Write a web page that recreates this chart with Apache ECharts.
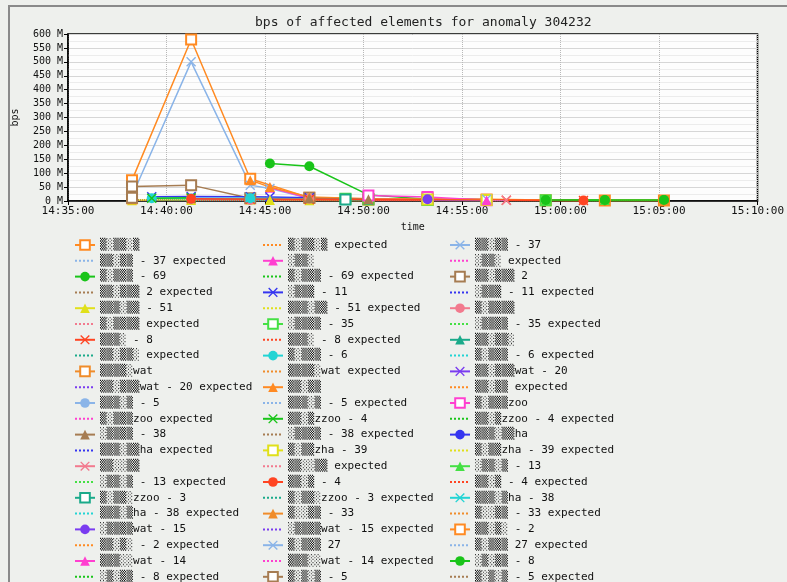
<!DOCTYPE html>
<html>
<head>
<meta charset="utf-8">
<script src="https://cdn.jsdelivr.net/npm/echarts@6/dist/echarts.min.js"></script>
<style>
html, body { margin: 0; padding: 0; background: #eef0ed; }
#main { width: 787px; height: 582px; }
</style>
</head>
<body>
<div id="main"></div>
<script>
// sample times (x) shared by all series
var times = ['14:38:15', '14:39:15', '14:41:15', '14:44:15', '14:45:15', '14:47:15', '14:49:05',
    '14:50:15', '14:53:15', '14:56:15', '14:57:15', '14:59:15', '15:01:10', '15:02:15', '15:05:15'];
var xStart = '14:35:00', xEnd = '15:10:00', xStep = 300;
var yMax = 600, yStep = 50;

// legend names (element names are masked in the source picture)
var observedLabels = [
    '▒░▒▒░▒', '▒▒░▒▒ - 37', '░▒▒░', '▒░▒▒▒ - 69', '▒▒░▒▒▒ 2', '░▒▒▒ - 11', '▒▒▒░▒▒ - 51',
    '▒░▒▒▒▒', '░▒▒▒▒ - 35', '▒▒▒░ - 8', '▒▒░▒▒░', '▒░▒▒▒ - 6', '▒▒▒▒░wat', '▒▒░▒▒▒wat - 20',
    '▒▒░▒▒', '▒▒▒░▒ - 5', '▒░▒▒▒zoo', '▒▒░▒zzoo - 4', '░▒▒▒▒ - 38', '▒▒▒░▒▒ha', '▒░▒▒zha - 39',
    '▒▒░░▒▒', '░▒▒░▒ - 13', '▒▒░▒ - 4', '▒░▒▒░zzoo - 3', '▒▒▒░▒ha - 38', '▒░░▒▒ - 33',
    '░▒▒▒▒wat - 15', '▒▒░▒░ - 2', '▒░▒▒▒ 27', '▒▒▒░░wat - 14', '░▒░▒▒ - 8', '▒░▒░▒ - 5'
];

// observed bps, in M, one value per entry of times (null = no sample)
var _ = null;
var observed = [
    [75, _, 580, 80, _, 12, _, 6, 8, 5, _, 3, _, 2, 2],
    [18, _, 500, 57, 45, 10, _, 5, 3, 2, _, _, _, _, _],
    [_, _, _, _, 48, 10, _, 8, 6, _, _, _, _, _, _],
    [_, _, _, _, 135, 125, _, 22, 6, 4, _, 3, _, 2, 3],
    [52, _, 57, 10, _, 12, _, 5, 4, _, _, _, _, _, _],
    [_, 15, 16, 15, 14, 12, _, 6, 3, _, _, _, _, _, _],
    [3, _, 4, 5, 4, 3, _, 2, _, _, _, _, _, _, _],
    [_, _, 6, 4, _, 8, _, 5, 4, _, _, _, _, _, _],
    [_, _, _, _, _, _, 8, 6, 4, _, _, 3, _, _, _],
    [_, _, 8, 6, _, 5, _, 4, _, _, 3, _, 2, _, _],
    [_, _, _, _, _, _, 7, 5, 3, _, _, _, _, _, _],
    [_, 10, 9, 10, _, _, 6, _, _, _, _, _, _, _, _],
    [_, _, _, _, _, _, _, _, 12, _, _, _, _, _, _],
    [_, _, _, _, _, _, _, _, 8, 5, _, _, _, _, _],
    [_, _, _, 75, 50, 14, _, 8, _, 6, _, 4, _, 3, 3],
    [_, _, _, _, _, _, _, _, _, 4, _, _, _, _, _],
    [_, _, _, _, _, _, _, 20, 14, 3, _, _, _, _, _],
    [_, 10, 12, _, _, _, _, _, _, _, _, _, _, _, _],
    [_, _, _, _, _, 10, _, 6, _, _, _, _, _, _, _],
    [8, _, _, _, _, _, _, _, _, _, _, _, _, _, _],
    [_, _, _, _, _, _, _, _, 5, 4, _, _, _, _, _],
    [_, _, _, _, _, _, _, _, _, _, 3, _, _, _, _],
    [_, _, _, _, _, _, _, _, _, _, _, 3, _, 4, _],
    [_, _, 8, _, _, _, _, _, _, _, _, _, 2, _, _],
    [_, _, _, _, _, _, 5, _, _, _, _, _, _, _, _],
    [_, _, _, 12, _, _, _, _, _, _, _, _, _, _, _],
    [_, _, _, _, _, _, _, _, _, _, _, _, _, _, 4],
    [_, _, _, _, _, _, _, _, 6, _, _, _, _, _, _],
    [10, _, _, _, _, _, _, _, _, _, _, _, _, _, _],
    [_, _, _, _, _, _, _, _, _, 6, _, _, _, _, _],
    [_, _, _, _, _, _, _, _, _, 3, _, _, _, _, _],
    [_, _, _, _, _, _, _, _, _, _, _, 4, _, 4, 4],
    [12, _, _, _, _, _, _, _, _, _, _, _, _, _, _]
];

// expected bps, in M (dotted lines, close to zero)
var expected = [
    [4, _, 5, 4, _, 3, _, 3, 2, 2, _, 2, _, 2, 2],
    [3, _, 4, 3, _, 3, _, 2, 2, _, _, _, _, _, _],
    [_, _, _, _, 3, 3, _, 2, 2, _, _, _, _, _, _],
    [_, _, _, _, 6, 5, _, 4, 3, 2, _, 2, _, 2, 2],
    [5, _, 5, 4, _, 3, _, 2, _, _, _, _, _, _, _],
    [_, 3, 3, 3, 3, 2, _, 2, _, _, _, _, _, _, _],
    [2, _, 2, 2, _, 2, _, 1, _, _, _, _, _, _, _],
    [_, _, 3, 3, _, 2, _, 2, _, _, _, _, _, _, _],
    [_, _, _, _, _, _, 2, 2, 2, _, _, 1, _, _, _],
    [_, _, 2, 2, _, 2, _, 1, _, _, 1, _, 1, _, _],
    [_, _, _, _, _, _, 2, 2, 1, _, _, _, _, _, _],
    [_, 2, 2, 2, _, _, 2, _, _, _, _, _, _, _, _],
    [_, _, _, _, _, _, _, _, 3, 2, _, _, _, _, _],
    [_, _, _, _, _, _, _, _, 2, 2, _, _, _, _, _],
    [_, _, _, 4, 3, 3, _, 2, _, 2, _, 2, _, 1, 1],
    [_, _, _, _, _, _, _, _, 2, 1, _, _, _, _, _],
    [_, _, _, _, _, _, _, 3, 3, 2, _, _, _, _, _],
    [_, 2, 2, _, _, _, _, _, _, _, _, _, _, _, _],
    [_, _, _, _, _, 2, _, 2, _, _, _, _, _, _, _],
    [2, _, 2, _, _, _, _, _, _, _, _, _, _, _, _],
    [_, _, _, _, _, _, _, _, 2, 1, _, _, _, _, _],
    [_, _, _, _, _, _, _, _, _, 1, 1, _, _, _, _],
    [_, _, _, _, _, _, _, _, _, _, _, 1, _, 1, _],
    [_, _, 2, _, _, _, _, _, _, _, _, _, 1, _, _],
    [_, _, _, _, _, _, 2, 1, _, _, _, _, _, _, _],
    [_, _, _, 2, 2, _, _, _, _, _, _, _, _, _, _],
    [_, _, _, _, _, _, _, _, _, _, _, _, _, 1, 1],
    [_, _, _, _, _, _, _, _, 2, 1, _, _, _, _, _],
    [2, _, 2, _, _, _, _, _, _, _, _, _, _, _, _],
    [_, _, _, _, _, _, _, _, _, 2, 1, _, _, _, _],
    [_, _, _, _, _, _, _, _, _, 1, 1, _, _, _, _],
    [_, _, _, _, _, _, _, _, _, _, _, 1, _, 1, 1],
    [3, _, 2, _, _, _, _, _, _, _, _, _, _, _, _]
];

var palette = ['#ff8a22', '#8ab4e8', '#ff3fd0', '#19c419', '#a67c52', '#3535f0', '#e0e01a',
    '#f27a8e', '#44e044', '#ff4422', '#1aaa8a', '#22d4d4', '#f08c2a', '#7a3cf0'];
var markers = ['emptyRect', 'path://M0,1L1,0L5,4L9,0L10,1L6,5L10,9L9,10L5,6L1,10L0,9L4,5Z', 'triangle', 'circle'];

function sec(t) {
    var p = t.split(':');
    return (+p[0]) * 3600 + (+p[1]) * 60 + (+p[2]) - sec0;
}
var sec0 = 0;
sec0 = sec(xStart);

function pad(n) { return (n < 10 ? '0' : '') + n; }
function fmtTime(v) {
    var s = v + sec0;
    return pad(Math.floor(s / 3600)) + ':' + pad(Math.floor(s / 60) % 60) + ':' + pad(s % 60);
}

function pts(vals) {
    var out = [];
    for (var i = 0; i < times.length; i++) {
        if (vals[i] != null) out.push([sec(times[i]), vals[i]]);
    }
    return out;
}

var mono = 'DejaVu Sans Mono';
var series = [];
var legendNames = [];
for (var k = 0; k < observed.length; k++) {
    var c = palette[k % palette.length];
    series.push({
        name: observedLabels[k],
        type: 'line',
        data: pts(observed[k]),
        symbol: markers[k % 4],
        symbolSize: 10,
        itemStyle: { color: c, borderWidth: 1.5 },
        lineStyle: { color: c, width: 1.5 }
    });
    series.push({
        name: observedLabels[k] + ' expected',
        type: 'line',
        data: pts(expected[k]),
        symbol: 'none',
        itemStyle: { color: c },
        lineStyle: { color: c, width: 1, type: 'dotted' }
    });
    legendNames.push({ name: observedLabels[k] });
    legendNames.push({ name: observedLabels[k] + ' expected', itemStyle: { opacity: 0 } });
}

// three key columns, filled row by row
var legendLefts = [74, 262, 449];
var legends = legendLefts.map(function (left, col) {
    return {
        orient: 'vertical',
        left: left,
        top: 239,
        height: 380,
        padding: 0,
        itemWidth: 20,
        itemHeight: 12,
        itemGap: 3.8,
        selectedMode: false,
        textStyle: { fontFamily: mono, fontSize: 11, color: '#111', lineHeight: 12 },
        data: legendNames.filter(function (d, i) { return i % 3 === col; })
    };
});

var chart = echarts.init(document.getElementById('main'));
chart.setOption({
    animation: false,
    backgroundColor: '#eef0ed',
    title: {
        text: 'bps of affected elements for anomaly 304232',
        left: 250,
        top: 11,
        textStyle: { fontFamily: mono, fontSize: 13, fontWeight: 'normal', color: '#222' }
    },
    graphic: [{
        type: 'rect',
        shape: { x: 9, y: 6, width: 800, height: 600 },
        style: { fill: 'none', stroke: '#8a8a8a', lineWidth: 2 },
        silent: true
    }],
    legend: legends,
    grid: {
        left: 68, right: 18, top: 34, bottom: 381,
        show: true, backgroundColor: '#fdfdfd', borderColor: '#000', borderWidth: 1.5
    },
    xAxis: {
        type: 'value',
        min: 0,
        max: sec(xEnd),
        interval: xStep,
        name: 'time',
        nameLocation: 'middle',
        nameGap: 21,
        nameTextStyle: { fontFamily: mono, fontSize: 10, color: '#111' },
        axisLine: { lineStyle: { color: '#000', width: 1.5 } },
        axisTick: { lineStyle: { color: '#000' }, length: 4 },
        axisLabel: { formatter: fmtTime, fontFamily: mono, fontSize: 11, color: '#111', margin: 5 },
        splitLine: { show: true, lineStyle: { color: '#b8b8b8', type: 'dotted' } }
    },
    yAxis: {
        type: 'value',
        min: 0,
        max: yMax,
        interval: yStep,
        name: 'bps',
        nameLocation: 'middle',
        nameGap: 48,
        nameTextStyle: { fontFamily: mono, fontSize: 10, color: '#111' },
        axisLine: { show: true, lineStyle: { color: '#000', width: 1.5 } },
        axisTick: { show: true, lineStyle: { color: '#000' }, length: 4 },
        axisLabel: {
            formatter: function (v) { return v + ' M'; },
            fontFamily: mono, fontSize: 10, color: '#111', margin: 5
        },
        splitLine: { show: true, lineStyle: { color: '#d6d6d6' } },
        minorTick: { show: false, splitNumber: 2 },
        minorSplitLine: { show: true, lineStyle: { color: '#ececec' } }
    },
    series: series
});
</script>
</body>
</html>
